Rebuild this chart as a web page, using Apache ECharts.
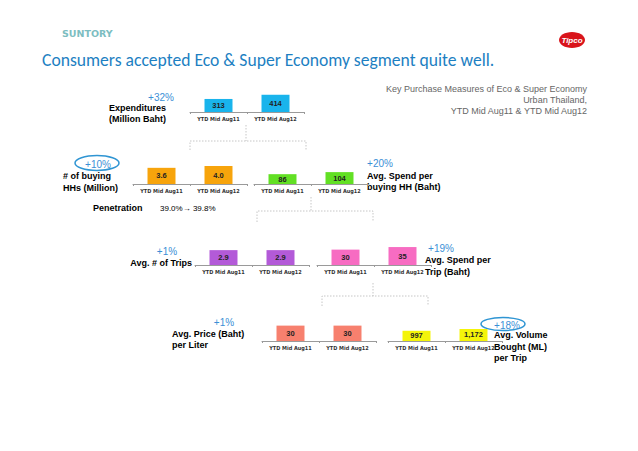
<!DOCTYPE html>
<html>
<head>
<meta charset="utf-8">
<script src="https://cdn.jsdelivr.net/npm/echarts@6/dist/echarts.min.js"></script>
<style>
html, body { margin: 0; padding: 0; background: #fff; }
#main { width: 638px; height: 451px; }
</style>
</head>
<body>
<div id="main"></div>
<script>
// data
var periods = ['YTD Mid Aug11', 'YTD Mid Aug12'];
var expenditures = [313, 414];
var buyingHHs = [3.6, 4.0];
var spendPerHH = [86, 104];
var tripsPerHH = [2.9, 2.9];
var spendPerTrip = [30, 35];
var pricePerLiter = [30, 30];
var volumePerTrip = [997, 1172];
var changes = ['+32%', '+10%', '+20%', '+1%', '+19%', '+1%', '+18%'];
var penetration = ['39.0%', '39.8%'];

var LABEL_FONT = '"Liberation Sans", Arial, sans-serif';
var NARROW_FONT = '"Liberation Sans Narrow", "DejaVu Sans Condensed", "Liberation Sans", sans-serif';

// one small bar chart per box on the slide
var panels = [
    {data: expenditures,  color: '#19b4ec', left: 190, base: 112, max: 480,  dec: 0},
    {data: buyingHHs,     color: '#f7a40c', left: 133, base: 184, max: 4.45, dec: 1},
    {data: spendPerHH,    color: '#62e024', left: 254, base: 184, max: 175,  dec: 0},
    {data: tripsPerHH,    color: '#b35ad8', left: 195, base: 265, max: 3.9,  dec: 1},
    {data: spendPerTrip,  color: '#f76cc2', left: 317, base: 265, max: 39,   dec: 0},
    {data: pricePerLiter, color: '#f7806e', left: 262, base: 341, max: 39,   dec: 0},
    {data: volumePerTrip, color: '#f4f40a', left: 388, base: 341, max: 1950, dec: 0}
];

function fmt(v, dec) {
    return dec ? v.toFixed(dec) : v.toLocaleString('en-US');
}

var grids = [], xAxes = [], yAxes = [], series = [];
panels.forEach(function (p, i) {
    grids.push({left: p.left, top: p.base - 20, width: 114, height: 20});
    xAxes.push({
        type: 'category', gridIndex: i, data: periods,
        axisLine: {lineStyle: {color: '#9a9a9a', width: 1}},
        axisTick: {show: true, length: 2, lineStyle: {color: '#9a9a9a'}},
        axisLabel: {
            interval: 0, hideOverlap: false,
            fontSize: 5.5, fontWeight: 'bold', color: '#333', margin: 4, fontFamily: NARROW_FONT
        }
    });
    yAxes.push({type: 'value', gridIndex: i, min: 0, max: p.max, show: false});
    series.push({
        type: 'bar', xAxisIndex: i, yAxisIndex: i, data: p.data, barWidth: 28,
        itemStyle: {color: p.color},
        label: {
            show: true, position: 'inside', fontSize: 7.5, fontWeight: 'bold', color: '#222',
            fontFamily: LABEL_FONT,
            formatter: function (o) { return fmt(o.value, p.dec); }
        },
        silent: true
    });
});

function txt(s, x, y, opt) {
    opt = opt || {};
    return {
        type: 'text', x: x, y: y, silent: true,
        style: {
            text: s,
            font: opt.font || ('bold 9px ' + LABEL_FONT),
            fill: opt.fill || '#000',
            textAlign: opt.align || 'left',
            textVerticalAlign: 'middle'
        }
    };
}
function pct(s, x, y) {
    return txt(s, x, y, {font: '10px ' + LABEL_FONT, fill: '#3b8fd6', align: 'center'});
}
function dash(points) {
    return {
        type: 'polyline', silent: true, shape: {points: points},
        style: {stroke: '#b8b8b8', lineWidth: 0.8, lineDash: [1.5, 1.5], fill: null}
    };
}
function ring(cx, cy, rx, ry) {
    return {
        type: 'ellipse', silent: true, shape: {cx: cx, cy: cy, rx: rx, ry: ry},
        style: {stroke: '#2f95d3', lineWidth: 1.5, fill: null}
    };
}

var graphics = [
    // header
    txt('SUNTORY', 62, 33, {font: 'bold 9.5px "DejaVu Sans", sans-serif', fill: '#7cbdc1'}),
    {type: 'ellipse', silent: true, shape: {cx: 572, cy: 40, rx: 13, ry: 8}, style: {fill: '#d9141b'}},
    txt('Tipco', 572, 40, {font: 'italic bold 8px ' + LABEL_FONT, fill: '#fff', align: 'center'}),
    txt('Consumers accepted Eco & Super Economy segment quite well.', 42, 60,
        {font: '17.6px Carlito, Lato, sans-serif', fill: '#1d7fc2'}),
    txt('Key Purchase Measures of Eco & Super Economy', 587, 89, {font: '9px ' + LABEL_FONT, fill: '#666', align: 'right'}),
    txt('Urban Thailand,', 587, 100, {font: '9px ' + LABEL_FONT, fill: '#666', align: 'right'}),
    txt('YTD Mid Aug11 & YTD Mid Aug12', 587, 111, {font: '9px ' + LABEL_FONT, fill: '#666', align: 'right'}),

    // expenditures
    pct(changes[0], 161, 97),
    txt('Expenditures', 109, 108),
    txt('(Million Baht)', 109, 119),

    // buying households
    ring(97, 163, 22, 7.5),
    pct(changes[1], 98, 164),
    txt('# of buying', 63, 176),
    txt('HHs (Million)', 63, 188),
    txt('Penetration', 93, 208),
    txt(penetration[0] + '\u2192 ' + penetration[1], 160, 208, {font: '8px ' + LABEL_FONT, fill: '#000'}),

    // spend per household
    pct(changes[2], 380, 163),
    txt('Avg. Spend per', 367, 176),
    txt('buying HH (Baht)', 367, 187),

    // trips
    pct(changes[3], 167, 251),
    txt('Avg. # of Trips', 192, 263, {align: 'right'}),

    // spend per trip
    pct(changes[4], 441, 248),
    txt('Avg. Spend per', 425, 260),
    txt('Trip (Baht)', 425, 272),

    // price per liter
    pct(changes[5], 224, 322),
    txt('Avg. Price (Baht)', 172, 334),
    txt('per Liter', 172, 345),

    // volume per trip
    ring(503, 324, 22, 6.5),
    pct(changes[6], 507, 325),
    txt('Avg. Volume', 494, 335),
    txt('Bought (ML)', 494, 347),
    txt('per Trip', 494, 358),

    // tree connectors
    dash([[246, 125], [246, 141]]),
    dash([[190, 150], [190, 141], [306, 141], [306, 150]]),
    dash([[311, 197], [311, 211]]),
    dash([[257, 222], [257, 211], [373, 211], [373, 222]]),
    dash([[373, 283], [373, 296]]),
    dash([[322, 306], [322, 296], [428, 296], [428, 306]])
];

var myChart = echarts.init(document.getElementById('main'), null, {renderer: 'svg'});
myChart.setOption({
    animation: false,
    backgroundColor: '#fff',
    grid: grids,
    xAxis: xAxes,
    yAxis: yAxes,
    series: series,
    graphic: {elements: graphics}
});
</script>
</body>
</html>
